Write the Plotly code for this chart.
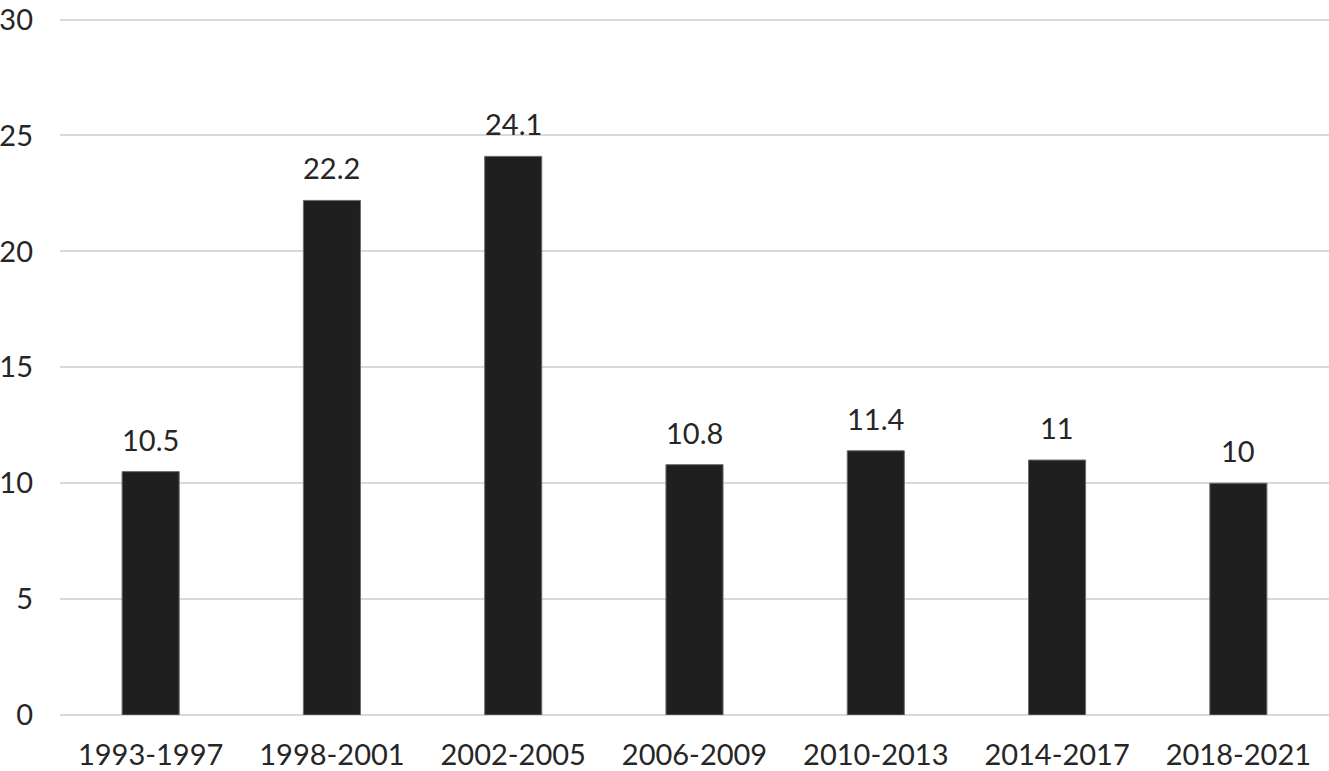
import plotly.graph_objects as go

categories = ["1993-1997", "1998-2001", "2002-2005", "2006-2009", "2010-2013", "2014-2017", "2018-2021"]
values = [10.5, 22.2, 24.1, 10.8, 11.4, 11, 10]
labels = ["10.5", "22.2", "24.1", "10.8", "11.4", "11", "10"]
y_ticks = [0, 5, 10, 15, 20, 25, 30]

FONT = "Lato"
TXT = "#262626"

fig = go.Figure()
fig.add_trace(go.Bar(
    x=categories, y=values,
    marker=dict(color="#1f1f1f", line=dict(color="#6e6e6e", width=1)),
    hoverinfo="skip",
))

for c, v, t in zip(categories, values, labels):
    fig.add_annotation(x=c, y=v, text=t, showarrow=False, yanchor="bottom",
                       yshift=13, font=dict(family=FONT, size=29, color=TXT))

fig.update_layout(
    width=1329, height=771,
    margin=dict(l=60, r=0, t=8, b=56),
    paper_bgcolor="white", plot_bgcolor="white",
    bargap=0.685,
    showlegend=False,
    font=dict(family=FONT, size=29, color=TXT),
    xaxis=dict(showgrid=False, showline=False, ticks="", ticklabelstandoff=20,
               tickfont=dict(family=FONT, size=29, color=TXT)),
    yaxis=dict(range=[0, 30.5], tickvals=y_ticks, showgrid=True, gridcolor="#d9d9d9",
               gridwidth=2, zeroline=True, zerolinecolor="#d9d9d9", zerolinewidth=2,
               showline=False, ticks="", ticklabelstandoff=26,
               tickfont=dict(family=FONT, size=29, color=TXT)),
)

fig.write_html("out.html", config={"displayModeBar": False},
               post_script="document.body.style.margin='0';")
